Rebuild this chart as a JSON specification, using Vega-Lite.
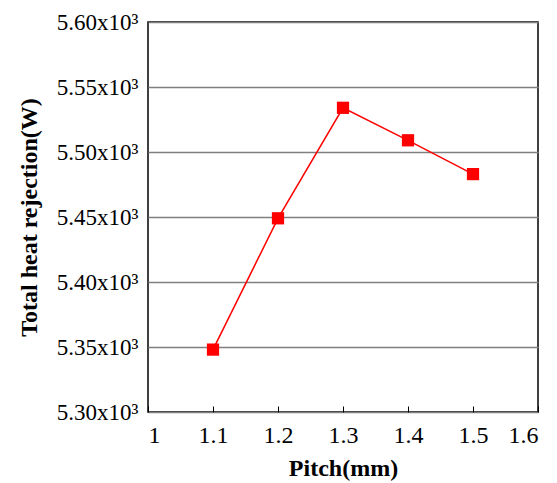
{
  "$schema": "https://vega.github.io/schema/vega-lite/v6.json",
  "autosize": "none",
  "width": 390,
  "height": 390,
  "padding": {"left": 148, "top": 22, "right": 19, "bottom": 71},
  "background": "white",
  "config": {
    "view": {"stroke": "black", "strokeWidth": 1.5},
    "font": "Liberation Serif"
  },
  "data": {
    "values": [
      {"pitch": 1.1, "heat": 5348},
      {"pitch": 1.2, "heat": 5449},
      {"pitch": 1.3, "heat": 5534},
      {"pitch": 1.4, "heat": 5509},
      {"pitch": 1.5, "heat": 5483}
    ]
  },
  "encoding": {
    "x": {
      "field": "pitch",
      "type": "quantitative",
      "scale": {"domain": [1, 1.6], "nice": false, "zero": false},
      "axis": {
        "title": "Pitch(mm)",
        "values": [1, 1.1, 1.2, 1.3, 1.4, 1.5, 1.6],
        "labelExpr": "datum.value == 1 ? '1' : format(datum.value, '.1f')",
        "grid": false,
        "domain": false,
        "ticks": true,
        "tickSize": -6,
        "tickColor": "black",
        "tickWidth": 1,
        "labelFont": "Liberation Serif",
        "labelFontSize": 24,
        "labelColor": "black",
        "labelPadding": 17,
        "titleFont": "Liberation Serif",
        "titleFontSize": 24,
        "titleFontWeight": "bold",
        "titleColor": "black",
        "titlePadding": 9
      }
    },
    "y": {
      "field": "heat",
      "type": "quantitative",
      "scale": {"domain": [5300, 5600], "nice": false, "zero": false},
      "axis": {
        "title": "Total heat rejection(W)",
        "values": [5300, 5350, 5400, 5450, 5500, 5550, 5600],
        "labelExpr": "format(datum.value / 1000, '.2f') + 'x10³'",
        "grid": true,
        "gridColor": "#7f7f7f",
        "gridWidth": 1.5,
        "domain": false,
        "ticks": false,
        "labelFont": "Liberation Serif",
        "labelFontSize": 23,
        "labelColor": "black",
        "labelPadding": 10,
        "titleFont": "Liberation Serif",
        "titleFontSize": 24,
        "titleFontWeight": "bold",
        "titleColor": "black",
        "titlePadding": 15
      }
    }
  },
  "layer": [
    {"mark": {"type": "line", "color": "red", "strokeWidth": 1.5}},
    {"mark": {"type": "point", "shape": "square", "filled": true, "color": "red", "opacity": 1, "size": 150}}
  ]
}
